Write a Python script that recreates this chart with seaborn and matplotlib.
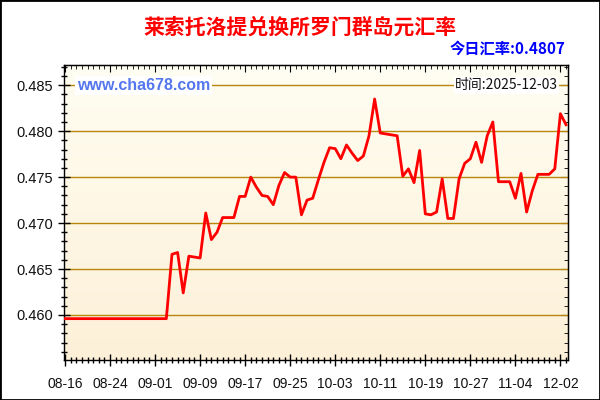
import numpy as np
import pandas as pd
import matplotlib
matplotlib.use("Agg")
import matplotlib.pyplot as plt
import matplotlib.transforms as mtransforms
from matplotlib.patches import Rectangle
from matplotlib.ticker import MultipleLocator, FixedLocator
import seaborn as sns

# ---- data ----
dates = [d.strftime("%m-%d") for d in pd.date_range("2025-08-16", "2025-11-11")] + ["12-02", "12-03"]
rates = [0.4596] * 19 + [
    0.4666, 0.4668, 0.4624, 0.4664, 0.4663, 0.4662, 0.4711, 0.4682, 0.4690, 0.4706,
    0.4706, 0.4706, 0.4729, 0.4729, 0.4750, 0.4739, 0.4730, 0.4729, 0.4720, 0.4741,
    0.4755, 0.4750, 0.4750, 0.4709, 0.4725, 0.4727, 0.4747, 0.4766, 0.4782, 0.4781,
    0.4770, 0.4785, 0.4776, 0.4768, 0.4773, 0.4795, 0.4835, 0.4798, 0.4797, 0.4796,
    0.4795, 0.4751, 0.4759, 0.4744, 0.4779, 0.4710, 0.4709, 0.4712, 0.4748, 0.4705,
    0.4705, 0.4748, 0.4765, 0.4770, 0.4788, 0.4766, 0.4795, 0.4810, 0.4745, 0.4745,
    0.4745, 0.4727, 0.4754, 0.4712, 0.4735, 0.4753, 0.4753, 0.4753, 0.4759, 0.4819,
    0.4807,
]
y_ticks = [0.460, 0.465, 0.470, 0.475, 0.480, 0.485]
title = "莱索托洛提兑换所罗门群岛元汇率"
today_label = "今日汇率:0.4807"
time_label = "时间:2025-12-03"
watermark = "www.cha678.com"

df = pd.DataFrame({"idx": np.arange(len(rates)), "rate": rates, "date": dates})

cjk = ["Noto Sans CJK SC", "DejaVu Sans"]
latin = ["Liberation Sans", "DejaVu Sans"]

fig = plt.figure(figsize=(6, 4), dpi=100)
fig.patch.set_facecolor("white")
ax = fig.add_axes([64 / 600, 1 - 360 / 400, (568 - 64) / 600, (360 - 65) / 400])

# gradient background
grad = np.linspace(0, 1, 256).reshape(-1, 1)
top_c = np.array([255, 254, 242]) / 255
bot_c = np.array([253, 240, 216]) / 255
img = top_c[None, None, :] * (1 - grad[:, :, None]) + bot_c[None, None, :] * grad[:, :, None]
ax.imshow(img, extent=[0, 1, 0, 1], transform=ax.transAxes, aspect="auto", zorder=0)

for yv in y_ticks:
    ax.axhline(yv, color="#B8860B", lw=1.0, zorder=1)

sns.lineplot(data=df, x="idx", y="rate", ax=ax, color="#FF0000", lw=2.0, zorder=3)

ax.set_xlim(-0.18, 89.35)
ax.set_ylim(0.4551, 0.4872)
ax.set_xlabel("")
ax.set_ylabel("")

major_x = list(range(0, len(dates), 8))
ax.xaxis.set_major_locator(FixedLocator(major_x))
ax.set_xticklabels([dates[i] for i in major_x], fontsize=10, family=latin, color="#111111")
ax.xaxis.set_minor_locator(MultipleLocator(1))
ax.yaxis.set_major_locator(FixedLocator(y_ticks))
ax.set_yticklabels([f"{v:.3f}" for v in y_ticks], fontsize=10.5, family=latin, color="#111111")
ax.yaxis.set_minor_locator(MultipleLocator(0.001))

ax.tick_params(which="major", direction="inout", length=8, width=1, color="black", pad=4)
ax.tick_params(which="minor", direction="inout", length=4, width=1, color="black")
ax.tick_params(axis="x", which="major", pad=8)
for s in ax.spines.values():
    s.set_color("black")
    s.set_linewidth(1)

secx = ax.secondary_xaxis("top")
secx.xaxis.set_major_locator(FixedLocator(major_x))
secx.xaxis.set_minor_locator(MultipleLocator(1))
secx.tick_params(which="major", direction="in", length=5, labeltop=False)
secx.tick_params(which="minor", direction="in", length=3)
secy = ax.secondary_yaxis("right")
secy.yaxis.set_major_locator(FixedLocator(y_ticks))
secy.yaxis.set_minor_locator(MultipleLocator(0.001))
secy.tick_params(which="major", direction="in", length=5, labelright=False)
secy.tick_params(which="minor", direction="in", length=3)

# texts
fig.text(0.5, 1 - 27 / 400, title, ha="center", va="center", color="#FF0000",
         fontsize=15, fontweight="bold", family=cjk)
fig.text(565 / 600, 1 - 49 / 400, today_label, ha="right", va="center", color="#0000FF",
         fontsize=11, fontweight="bold", family=cjk)
blend = mtransforms.blended_transform_factory(ax.transAxes, ax.transData)
ax.text((77 - 64) / 504, 0.485, watermark, transform=blend,
        ha="left", va="center", color="#5577EE", fontsize=11.5, fontweight="bold", family=latin,
        bbox=dict(facecolor="white", edgecolor="none", pad=1.5), zorder=4)
ax.text((558 - 64) / 504, 0.485, time_label, transform=blend,
        ha="right", va="center", color="#111111", fontsize=10, family=cjk,
        bbox=dict(facecolor="white", edgecolor="none", pad=1), zorder=4)

fig.patches.append(Rectangle((0, 0), 1, 1, transform=fig.transFigure, fill=False,
                             edgecolor="black", lw=2))

fig.savefig("out.png", dpi=100)
